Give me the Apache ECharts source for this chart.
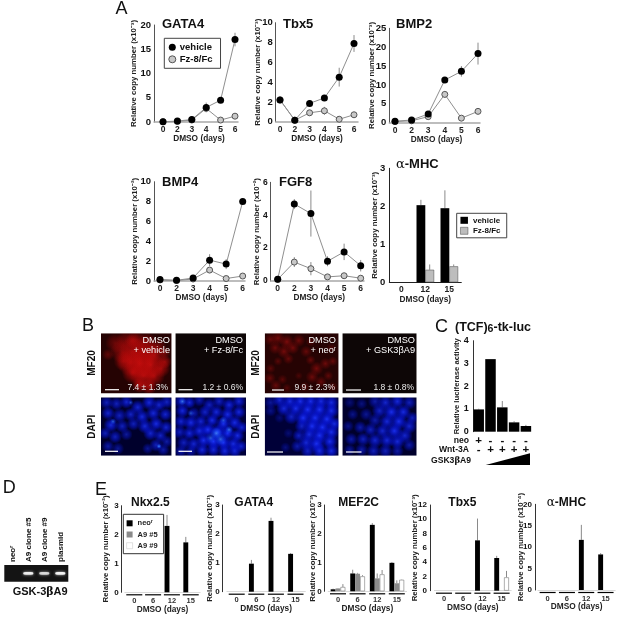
<!DOCTYPE html>
<html><head><meta charset="utf-8">
<style>html,body{margin:0;padding:0;background:#fff}#c{width:622px;height:624px}</style>
<script src="https://cdn.jsdelivr.net/npm/echarts@6/dist/echarts.min.js"></script>
</head><body><div id="c"></div>
<script>
// ---------- DATA ----------
const dayLabels = ['0','2','3','4','5','6'];
const gata4Vehicle = [0.05,0.2,0.5,3.0,4.5,17.0];
const gata4Fz = [0.05,0.1,0.4,2.8,0.4,1.2];
const gata4VehicleErr = [0,0,0,1.0,0.3,1.4];
const gata4FzErr = [0,0,0,0.3,0,0.2];
const tbx5Vehicle = [2.2,0.15,1.85,2.4,4.5,7.9];
const tbx5Fz = [2.2,0.15,0.9,1.1,0.25,0.7];
const tbx5VehicleErr = [0.2,0,0.3,0.2,0.95,0.85];
const tbx5FzErr = [0,0,0.25,0.4,0.1,0.1];
const bmp2Vehicle = [0.4,0.7,2.3,11.3,13.6,18.3];
const bmp2Fz = [0.3,0.5,1.6,7.5,1.2,3.0];
const bmp2VehicleErr = [0,0,0.3,0.7,1.4,2.9];
const bmp2FzErr = [0,0,0.2,0.9,0.2,0.3];
const bmp4Vehicle = [0.15,0.07,0.3,2.1,1.7,8.0];
const bmp4Fz = [0.1,0.05,0.2,1.1,0.25,0.5];
const bmp4VehicleErr = [0,0,0.1,0.6,0.5,0.1];
const bmp4FzErr = [0,0,0,0.1,0.1,0.1];
const fgf8Vehicle = [0.1,4.68,4.1,1.2,1.77,0.93];
const fgf8Fz = [0.1,1.15,0.75,0.25,0.32,0.17];
const fgf8VehicleErr = [0,0.3,1.4,0.3,0.5,0.35];
const fgf8FzErr = [0,0.3,0.4,0.1,0.1,0.1];

const mhcDays = ['0','12','15'];
const mhcVehicle = [0,2.03,1.95];
const mhcFz = [0,0.33,0.42];
const mhcVehicleErr = [0,0.14,0.47];
const mhcFzErr = [0,0.14,0.05];

const lucValues = [0.98,3.19,1.07,0.41,0.25];
const lucErr = [0.03,0,0.28,0.05,0.05];
const neoRow = ['+','-','-','-','-'];
const wntRow = ['-','+','+','+','+'];

const gelLanes = ['neoʳ','A9 clone #5','A9 clone #9','plasmid'];
const gelBands = [0,0.95,0.8,1];

const eDays = ['0','6','12','15'];
const nkxNeo = [0,0,2.3,1.73], nkxA5 = [0,0,0,0], nkxA9 = [0,0,0,0];
const nkxNeoErr = [0,0,0.38,0.19], nkxA5Err = [0,0,0,0], nkxA9Err = [0,0,0,0];
const eGataNeo = [0,0.97,2.45,1.31], eGataA5 = [0,0,0,0], eGataA9 = [0,0,0,0];
const eGataNeoErr = [0,0.13,0.11,0.03], eGataA5Err = [0,0,0,0], eGataA9Err = [0,0,0,0];
const mefNeo = [0.07,0.62,2.31,0.99], mefA5 = [0.1,0.61,0.45,0.28], mefA9 = [0.15,0.52,0.59,0.4];
const mefNeoErr = [0.02,0.13,0.06,0.03], mefA5Err = [0.01,0.03,0.17,0.1], mefA9Err = [0.1,0.04,0.15,0.01];
const eTbxNeo = [0,0,7.05,4.58], eTbxA5 = [0,0,0,0], eTbxA9 = [0,0,0,1.87];
const eTbxNeoErr = [0,0,3.05,0.3], eTbxA5Err = [0,0,0,0], eTbxA9Err = [0,0,0,0.9];
const eMhcNeo = [0,0,11.7,8.3], eMhcA5 = [0,0,0,0], eMhcA9 = [0,0,0,0];
const eMhcNeoErr = [0,0,3.5,0.3], eMhcA5Err = [0,0,0,0], eMhcA9Err = [0,0,0,0];

// micrograph blobs: [x%, y%, diameter, opacity]
const mf1Blobs = [[10,35,12,.3],[20,16,20,.35],[35,12,20,.4],[50,12,20,.45],[65,15,20,.45],[80,22,18,.4],[90,32,12,.4],
 [30,30,24,.5],[45,30,28,.6],[60,30,28,.6],[75,36,24,.6],[90,47,14,.6],[32,46,20,.5],[42,48,28,.6],[55,50,30,.7],[70,52,28,.7],
 [85,58,18,.6],[45,65,22,.6],[60,70,28,.7],[75,70,22,.6],[55,85,16,.6],[68,88,16,.6],[45,12,16,.4]];
const mf3Blobs = [[8,10,13,.5],[18,8,14,.6],[30,14,15,.65],[14,24,13,.55],[26,30,14,.6],[38,24,13,.6],[46,12,13,.55],[32,42,11,.5],
 [18,46,9,.4],[8,58,10,.4],[7,74,12,.5],[15,86,12,.5],[24,76,10,.4],[30,90,9,.35],[56,30,12,.5],[62,44,10,.5],[70,58,14,.6],
 [82,50,12,.55],[92,46,10,.5],[64,72,13,.55],[76,80,12,.5],[54,88,10,.4],[86,70,10,.45],[92,88,10,.4],[62,14,10,.35],[90,24,10,.3],[46,70,8,.3]];
const dapi1Blobs = [[8,10,11,.7],[22,12,11,.7],[36,9,11,.8],[52,18,12,.8],[68,10,12,.85],[82,14,11,.8],[93,9,11,.75],[10,28,11,.8],[26,32,12,.7],
 [42,30,11,.75],[58,34,12,.85],[74,28,12,.85],[91,30,11,.8],[14,48,12,.85],[30,50,11,.7],[46,46,11,.7],[62,50,12,.85],[78,46,12,.9],[92,52,11,.8],
 [6,62,10,.7],[20,68,11,.7],[36,64,10,.55],[70,62,12,.8],[84,66,11,.75],[10,84,10,.6],[24,88,10,.5],[78,82,11,.7],[88,90,10,.6],[66,88,9,.5],[93,76,10,.6]];
const dapi1Bright = [[82,84,5,.9],[17,42,6,.6],[42,10,5,.5]];
const dapi2Blobs = [[8,8,11,.7],[20,10,10,.85],[34,6,10,.6],[48,14,11,.7],[62,8,11,.7],[76,14,11,.85],[90,8,11,.8],[10,24,11,.85],[26,28,10,.6],
 [42,26,11,.75],[58,26,11,.85],[74,30,12,.9],[90,26,11,.85],[8,42,11,.8],[22,44,12,.9],[36,42,11,.8],[52,40,11,.9],[68,46,12,.95],[84,44,12,.9],
 [94,52,10,.8],[6,60,11,.7],[20,62,11,.85],[34,58,12,.9],[46,56,12,1],[60,60,13,1],[74,62,12,1],[88,66,11,.9],[12,78,11,.7],[26,80,11,.8],
 [40,74,12,.95],[54,76,13,1],[68,78,12,1],[82,80,12,.9],[93,84,10,.8],[8,92,10,.6],[22,92,10,.6],[38,90,11,.85],[54,90,11,.85],[70,92,11,.9],[84,92,11,.85]];
const dapi2Bright = [[10,8,6,.7],[58,62,9,.7],[64,72,9,.6],[50,70,8,.5],[76,56,6,.7],[22,28,5,.5],[68,40,6,.5]];
const dapi3Blobs = [[20,6,11,.8],[34,8,12,.9],[48,8,12,.95],[62,8,12,.95],[76,8,12,.9],[90,10,12,.9],[8,10,10,.5],[26,20,12,.85],[42,20,12,.95],
 [58,22,13,1],[74,22,13,1],[90,24,12,.95],[8,24,9,.4],[36,34,12,.75],[52,36,13,1],[68,36,13,1],[84,38,13,1],[94,46,11,.9],[50,50,11,.75],
 [64,50,13,1],[78,52,13,1],[90,60,12,.95],[60,64,12,.9],[74,66,13,1],[46,66,10,.7],[88,76,12,.95],[56,78,12,.85],[70,80,13,1],[44,84,10,.6],[58,92,11,.75],[74,92,12,.9],[90,92,11,.9],[20,36,8,.3],[32,62,8,.3],[28,86,8,.35]];
const dapi4Blobs = [[44,8,11,.6],[58,10,12,.8],[74,8,12,.85],[90,10,11,.7],[10,10,9,.35],[26,12,9,.4],[50,24,12,.75],[66,26,13,.95],[82,26,12,.9],[94,36,10,.7],
 [14,30,9,.45],[32,30,10,.5],[44,40,11,.6],[60,42,12,.85],[76,42,13,.95],[90,50,12,.8],[8,50,9,.45],[24,52,10,.6],[38,56,11,.7],[54,58,12,.8],[70,58,13,.95],
 [84,66,12,.8],[12,72,10,.6],[28,72,11,.7],[44,74,12,.8],[60,74,12,.85],[74,76,12,.85],[90,82,10,.6],[10,90,9,.5],[26,90,10,.6],[42,92,11,.7],[58,92,11,.7],[74,92,10,.6]];

// ---------- OPTION ----------
const FF = '"Liberation Sans", Arial, sans-serif';
const option = {animation:false, backgroundColor:'#fff', grid:[], xAxis:[], yAxis:[], series:[], title:[], legend:[], graphic:{elements:[]}};
const YNAME = {fontFamily:FF, fontWeight:'bold', fontSize:7.8, color:'#222'};
const XNAME = {fontFamily:FF, fontWeight:'bold', fontSize:8.3, color:'#222'};

function addTitle(text, left, cy, size, weight) {
  option.title.push({text, left, top:cy-size*0.62, padding:0, itemGap:0,
    textStyle:{fontFamily:FF, fontSize:size, fontWeight:weight||'bold', color:'#111', lineHeight:size*1.2,
      rich:{g:{fontFamily:'"DejaVu Serif",serif', fontWeight:'normal', fontSize:size, color:'#111'},
            s:{fontFamily:FF, fontWeight:'bold', fontSize:size*0.85, color:'#111', verticalAlign:'bottom', padding:[4,0,0,0]}}}});
}
function addText(text, x, y, size, opt) {
  opt = opt||{};
  option.graphic.elements.push({type:'text', x, y, rotation:opt.rot||0, z:60, silent:true,
    style:{text, fill:opt.fill||'#111', font:(opt.weight||'bold')+' '+size+'px '+FF, textAlign:opt.align||'center', textVerticalAlign:'middle', align:opt.align||'center', verticalAlign:'middle'}});
}
function addGrid(g) { option.grid.push(Object.assign({containLabel:false, borderWidth:0}, g)); return option.grid.length-1; }

function errorSeries(idx, items, dir, offset, color, w) {
  return {type:'custom', coordinateSystem:'cartesian2d', xAxisIndex:idx, yAxisIndex:idx, silent:true, z:2, clip:false,
    data:items, encode:{x:0,y:1},
    renderItem(p, api) {
      const x = api.value(0), v = api.value(1), e = api.value(2);
      if (!e) return null;
      const a = api.coord([x, v]), b = api.coord([x, v+e]), c = dir===2 ? api.coord([x, v-e]) : a;
      return {type:'line', shape:{x1:a[0]+offset, y1:c[1], x2:a[0]+offset, y2:b[1]}, style:{stroke:color||'#8a8a8a', lineWidth:w||1}};
    }};
}

function linePanel(cfg, vehicle, fz, vErr, fErr) {
  const i = addGrid({left:cfg.ax, top:cfg.top, width:cfg.end-cfg.ax, height:cfg.y0-cfg.top});
  const sp = (cfg.x5-cfg.x0)/5;
  const delta = (cfg.x0+cfg.x5)/2 - (cfg.ax+cfg.end)/2;
  option.xAxis.push({type:'value', gridIndex:i, min:(cfg.ax-cfg.x0)/sp, max:(cfg.end-cfg.x0)/sp, splitLine:{show:false},
    axisLine:{onZero:false, lineStyle:{color:'#a8a8a8', width:1.5}}, axisTick:{show:false},
    axisLabel:{customValues:[0,1,2,3,4,5], formatter:v=>dayLabels[Math.round(v)], fontFamily:FF, fontWeight:'bold', fontSize:8.5, color:'#222', margin:3, showMinLabel:true, showMaxLabel:true},
    name:'DMSO (days)', nameLocation:'middle', nameGap:13, nameMoveOverlap:false, nameTextStyle:Object.assign({padding:[0,0,0,Math.max(0,2*delta)]}, XNAME)});
  option.yAxis.push({type:'value', gridIndex:i, min:0, max:cfg.max, interval:cfg.step, splitLine:{show:false},
    axisLine:{show:true, onZero:false, lineStyle:{color:'#555', width:1}}, axisTick:{show:false},
    axisLabel:{fontFamily:FF, fontWeight:'bold', fontSize:cfg.tick||9.5, color:'#111', margin:3},
    name:'Relative copy number (x10'+cfg.exp+')', nameLocation:'middle', nameGap:cfg.gap, nameMoveOverlap:false, nameTextStyle:YNAME});
  const pts = a => a.map((v,k)=>[k,v]);
  const lineS = (name, data, fill, border, size, z) => ({type:'line', name, xAxisIndex:i, yAxisIndex:i, data:pts(data), z, symbol:'circle', symbolSize:size, showSymbol:true, clip:false,
    lineStyle:{color:'#8f8f8f', width:1}, itemStyle:{color:fill, borderColor:border, borderWidth:border==='none'?0:1}, silent:true});
  option.series.push(errorSeries(i, fz.map((v,k)=>[k,v,fErr[k]]), 2, 0));
  option.series.push(errorSeries(i, vehicle.map((v,k)=>[k,v,vErr[k]]), 2, 0));
  option.series.push(lineS('Fz-8/Fc', fz, '#c8c8c8', '#555', 6, 3));
  option.series.push(lineS('vehicle', vehicle, '#000', 'none', 7, 4));
  addTitle(cfg.title, cfg.tx, cfg.ty, 13);
}
linePanel({title:'GATA4', tx:162, ty:25, ax:154, y0:122, top:25, x0:163, x5:235, end:238, max:20, step:5, exp:'⁻³', gap:16}, gata4Vehicle, gata4Fz, gata4VehicleErr, gata4FzErr);
linePanel({title:'Tbx5', tx:283, ty:25, ax:275.7, y0:121.7, top:22.7, x0:280, x5:354, end:358, max:10, step:2, exp:'⁻³', gap:14}, tbx5Vehicle, tbx5Fz, tbx5VehicleErr, tbx5FzErr);
linePanel({title:'BMP2', tx:396, ty:25, ax:389.3, y0:122.7, top:28.3, x0:395, x5:478, end:480, max:25, step:5, exp:'⁻³', gap:13}, bmp2Vehicle, bmp2Fz, bmp2VehicleErr, bmp2FzErr);
linePanel({title:'BMP4', tx:162, ty:183, ax:154, y0:281, top:181.7, x0:160, x5:242.7, end:245, max:10, step:2, exp:'⁻²', gap:15}, bmp4Vehicle, bmp4Fz, bmp4VehicleErr, bmp4FzErr);
linePanel({title:'FGF8', tx:279, ty:183, ax:270.7, y0:281, top:182.3, x0:277.7, x5:360.7, end:364, max:6, step:2, exp:'⁻²', gap:10, tick:8.5}, fgf8Vehicle, fgf8Fz, fgf8VehicleErr, fgf8FzErr);

option.legend.push({left:164.3, top:38.3, orient:'vertical', selectedMode:false, padding:[4,8,4,4], itemGap:2, itemWidth:7, itemHeight:7, borderColor:'#444', borderWidth:1, backgroundColor:'#fff', z:20,
  textStyle:{fontFamily:FF, fontWeight:'bold', fontSize:9.5, color:'#111', padding:[0,0,0,-1]},
  data:[{name:'vehicle', icon:'circle', itemStyle:{color:'#000', borderWidth:0}}, {name:'Fz-8/Fc', icon:'circle', itemStyle:{color:'#c8c8c8', borderColor:'#555', borderWidth:1}}]});

// alpha-MHC, panel A
(function(){
  const i = addGrid({left:389.3, top:168.3, width:72, height:114});
  option.xAxis.push({type:'category', gridIndex:i, data:mhcDays, axisTick:{show:false}, axisLine:{lineStyle:{color:'#222', width:1}},
    axisLabel:{fontFamily:FF, fontWeight:'bold', fontSize:8.5, color:'#222', margin:3}, name:'DMSO (days)', nameLocation:'middle', nameGap:13, nameMoveOverlap:false, nameTextStyle:XNAME});
  option.yAxis.push({type:'value', gridIndex:i, min:0, max:3, interval:1, splitLine:{show:false}, axisTick:{show:false}, axisLine:{show:true, lineStyle:{color:'#222'}},
    axisLabel:{fontFamily:FF, fontWeight:'bold', fontSize:9.5, color:'#111', margin:4}, name:'Relative copy number (x10⁻³)', nameLocation:'middle', nameGap:10, nameMoveOverlap:false, nameTextStyle:YNAME});
  option.series.push({type:'bar', name:'vehicle ', xAxisIndex:i, yAxisIndex:i, data:mhcVehicle, barWidth:8.8, barGap:'0%', itemStyle:{color:'#000'}, silent:true});
  option.series.push({type:'bar', name:'Fz-8/Fc ', xAxisIndex:i, yAxisIndex:i, data:mhcFz.map(v=>v||null), barWidth:8.8, itemStyle:{color:'#bdbdbd', borderColor:'#444', borderWidth:0.5}, silent:true});
  option.series.push(errorSeries(i, mhcVehicle.map((v,k)=>[k,v,mhcVehicleErr[k]]), 1, -4.4));
  option.series.push(errorSeries(i, mhcFz.map((v,k)=>[k,v,mhcFzErr[k]]), 1, 4.4));
  addTitle('{g|α}-MHC', 396, 165, 13);
})();
option.legend.push({left:456.7, top:213.3, orient:'vertical', selectedMode:false, padding:[3,4,3,3.5], itemGap:2.5, itemWidth:7.5, itemHeight:7, borderColor:'#444', borderWidth:1, backgroundColor:'#fff',
  textStyle:{fontFamily:FF, fontWeight:'bold', fontSize:8, color:'#111'},
  data:[{name:'vehicle ', icon:'rect', itemStyle:{color:'#000'}}, {name:'Fz-8/Fc ', icon:'rect', itemStyle:{color:'#bdbdbd', borderColor:'#444', borderWidth:0.5}}]});

// Panel B micrographs
function blobColor(inner, mid) {
  return {type:'radial', x:0.5, y:0.5, r:0.5, colorStops:[{offset:0,color:inner},{offset:0.5,color:mid},{offset:1,color:mid.replace(/[\d.]+\)$/,'0)')}]};
}
function micro(box, bg, sets) {
  const i = addGrid({left:box[0], top:box[1], width:box[2]-box[0], height:box[3]-box[1], show:true, backgroundColor:bg});
  option.xAxis.push({type:'value', gridIndex:i, min:0, max:100, show:false});
  option.yAxis.push({type:'value', gridIndex:i, min:0, max:100, inverse:true, show:false});
  sets.forEach(s=>{
    const k = s.scale||1;
    option.series.push({type:'scatter', xAxisIndex:i, yAxisIndex:i, silent:true, clip:false, z:3,
      symbolSize:v=>v[2]*k, itemStyle:{color:s.color},
      data:s.data.map(d=>({value:[d[0],d[1],d[2]], itemStyle:{opacity:d[3]}}))});
  });
  option.graphic.elements.push({type:'rect', z:50, silent:true, shape:{x:box[0]-1.7, y:box[1]-1.7, width:box[2]-box[0]+3.4, height:box[3]-box[1]+3.4}, style:{fill:'none', stroke:'#fff', lineWidth:3.4}});
}
const RED = blobColor('#e81010','rgba(200,10,10,0.7)');
const DRED = blobColor('#a81010','rgba(125,8,8,0.7)');
const BLUE = blobColor('#1a30f4','rgba(8,22,215,0.75)');
const LBLUE = blobColor('#4f9cff','rgba(30,90,255,0.6)');
const col = [[101,171.7],[175.3,246],[264.7,338.7],[342.3,416.7]];
const rowTop=[333.3,394], rowBot=[396.7,455.7];
micro([col[0][0],rowTop[0],col[0][1],rowTop[1]], '#250303', [{color:RED, data:mf1Blobs}]);
micro([col[1][0],rowTop[0],col[1][1],rowTop[1]], '#0d0606', []);
micro([col[2][0],rowTop[0],col[2][1],rowTop[1]], '#260303', [{color:DRED, data:mf3Blobs}]);
micro([col[3][0],rowTop[0],col[3][1],rowTop[1]], '#0d0606', []);
micro([col[0][0],rowBot[0],col[0][1],rowBot[1]], '#00002c', [{color:BLUE, data:dapi1Blobs, scale:1.25},{color:LBLUE, data:dapi1Bright}]);
micro([col[1][0],rowBot[0],col[1][1],rowBot[1]], '#00003a', [{color:BLUE, data:dapi2Blobs, scale:1.25},{color:LBLUE, data:dapi2Bright, scale:1.3}]);
micro([col[2][0],rowBot[0],col[2][1],rowBot[1]], '#000038', [{color:BLUE, data:dapi3Blobs, scale:1.3}]);
micro([col[3][0],rowBot[0],col[3][1],rowBot[1]], '#00002c', [{color:BLUE, data:dapi4Blobs, scale:1.3}]);
[[92.7,363,'MF20'],[92.7,426.7,'DAPI'],[256.7,363,'MF20'],[256.7,426.7,'DAPI']].forEach(t=>addText(t[2],t[0],t[1],10,{rot:Math.PI/2}));
[[170,340,'DMSO'],[170,350,'+ vehicle'],[243,340,'DMSO'],[243,350,'+ Fz-8/Fc'],[336,340,'DMSO'],[336,350,'+ neoʳ'],[415,340,'DMSO'],[415,350,'+ GSK3βA9']]
  .forEach(t=>addText(t[2],t[0],t[1],9.2,{fill:'#fff',weight:'normal',align:'right'}));
[[168,387.3,'7.4 ± 1.3%'],[243,387.3,'1.2 ± 0.6%'],[335,387.3,'9.9 ± 2.3%'],[414,387.3,'1.8 ± 0.8%']]
  .forEach(t=>addText(t[2],t[0],t[1],8.5,{fill:'#e8e8e8',weight:'normal',align:'right'}));
[[105,389.7,14],[178.5,389.7,14],[272,390,12],[346,390,15],[105,451.3,13],[178.5,451.3,13.5],[267,452,16],[346,452,15.5]].forEach(b=>{
  option.graphic.elements.push({type:'rect', z:60, silent:true, shape:{x:b[0], y:b[1]-0.6, width:b[2], height:1.2}, style:{fill:'#fff'}});
});

// Panel C
(function(){
  const i = addGrid({left:472.8, top:340.7, width:59, height:91});
  option.xAxis.push({type:'category', gridIndex:i, data:neoRow.map((n,k)=>n+'\n'+wntRow[k]), axisTick:{show:false}, axisLine:{show:false},
    axisLabel:{fontFamily:FF, fontWeight:'bold', fontSize:11.5, lineHeight:9.5, color:'#111', margin:4, interval:0}});
  option.yAxis.push({type:'value', gridIndex:i, min:0, max:4, interval:1, splitLine:{show:false}, axisTick:{show:false}, axisLine:{show:true, lineStyle:{color:'#333'}},
    axisLabel:{fontFamily:FF, fontWeight:'bold', fontSize:9, color:'#111', margin:4}, name:'Relative luciferase activity', nameLocation:'middle', nameGap:12, nameMoveOverlap:false, nameTextStyle:Object.assign({},YNAME,{fontSize:7.7})});
  option.series.push({type:'bar', xAxisIndex:i, yAxisIndex:i, data:lucValues, barWidth:10.5, itemStyle:{color:'#000'}, silent:true});
  option.series.push(errorSeries(i, lucValues.map((v,k)=>[k,v,lucErr[k]]), 1, 0));
  addTitle('(TCF){s|6}-tk-luc', 455, 327.5, 12.5);
  addText('neo',469,440.7,8.6,{align:'right'}); addText('Wnt-3A',469,450,8.6,{align:'right'});
  option.title.push({text:'GSK3{g|β}A9', left:431, top:456.5, padding:0, textStyle:{fontFamily:FF, fontSize:8.6, fontWeight:'bold', color:'#111', rich:{g:{fontFamily:'"DejaVu Serif",serif', fontSize:8.6, color:'#111'}}}});
  option.graphic.elements.push({type:'polygon', z:10, silent:true, shape:{points:[[485.7,465],[530,465],[530,453.3]]}, style:{fill:'#000'}});
})();

// Panel D
(function(){
  const i = addGrid({left:4.3, top:565, width:64, height:16.7, show:true, backgroundColor:'#141414'});
  option.xAxis.push({type:'category', gridIndex:i, position:'top', data:gelLanes, axisTick:{show:false}, axisLine:{show:false},
    axisLabel:{rotate:90, interval:0, fontFamily:FF, fontWeight:'bold', fontSize:8, color:'#111', margin:3}});
  option.yAxis.push({type:'value', gridIndex:i, min:0, max:1, show:false});
  option.series.push({type:'scatter', xAxisIndex:i, yAxisIndex:i, silent:true, symbol:'roundRect', symbolSize:[10,2.6],
    itemStyle:{color:'#f4f4f4', shadowBlur:3, shadowColor:'#cfcfcf'},
    data:gelBands.map((v,k)=>({value:[k,0.5], itemStyle:{opacity:v}})).filter((d,k)=>gelBands[k]>0)});
  option.title.push({text:'GSK-3{g|β}A9', left:12.7, top:586.5, padding:0, textStyle:{fontFamily:FF, fontSize:11, fontWeight:'bold', color:'#111', rich:{g:{fontFamily:'"DejaVu Serif",serif', fontSize:11, color:'#111'}}}});
})();

// Panel E
function ePanel(cfg, neo, a5, a9, neoE, a5E, a9E) {
  const i = addGrid({left:cfg.left, top:cfg.top, width:cfg.w, height:cfg.y0-cfg.top});
  option.xAxis.push({type:'category', gridIndex:i, data:eDays, axisTick:{show:false}, axisLine:{lineStyle:{color:'#cfcfcf', width:0.8}},
    axisLabel:{fontFamily:FF, fontWeight:'bold', fontSize:7.5, color:'#333', margin:4.5, interval:0}, name:'DMSO (days)', nameLocation:'middle', nameGap:13, nameMoveOverlap:false, nameTextStyle:XNAME});
  option.yAxis.push({type:'value', gridIndex:i, min:0, max:cfg.max, interval:cfg.step, offset:cfg.left-cfg.ax, splitLine:{show:false}, axisTick:{show:false},
    axisLine:{show:true, lineStyle:{color:'#333'}}, axisLabel:{fontFamily:FF, fontWeight:'bold', fontSize:8, color:'#111', margin:3},
    name:'Relative copy number (x10'+cfg.exp+')', nameLocation:'middle', nameGap:cfg.gap, nameMoveOverlap:false, nameTextStyle:YNAME});
  const bw = 4.9;
  const bar = (name,data,style) => ({type:'bar', name, xAxisIndex:i, yAxisIndex:i, data:data.map(v=>v||null), barWidth:bw, barGap:'0%', itemStyle:style, silent:true});
  option.series.push(bar('neoʳ', neo, {color:'#000'}));
  option.series.push(bar('A9 #5', a5, {color:'#8a8a8a'}));
  option.series.push(bar('A9 #9', a9, {color:'#fff', borderColor:'#777', borderWidth:0.6}));
  option.series.push(errorSeries(i, neo.map((v,k)=>[k,v,neoE[k]]), 1, -bw));
  option.series.push(errorSeries(i, a5.map((v,k)=>[k,v,a5E[k]]), 1, 0));
  option.series.push(errorSeries(i, a9.map((v,k)=>[k,v,a9E[k]]), 1, bw));
  option.series.push({type:'custom', coordinateSystem:'cartesian2d', xAxisIndex:i, yAxisIndex:i, silent:true, z:5, clip:false,
    data:eDays.map((d,k)=>[k,0]), encode:{x:0,y:1},
    renderItem(p, api){ const c = api.coord([api.value(0),0]); return {type:'line', shape:{x1:c[0]-8, y1:c[1]+2.5, x2:c[0]+8, y2:c[1]+2.5}, style:{stroke:'#000', lineWidth:1.2}}; }});
  addTitle(cfg.title, cfg.tx, 502.7, 12);
}
ePanel({title:'Nkx2.5', tx:131, left:124.9, ax:121.7, top:505.7, y0:592.3, w:75.2, max:3, step:1, exp:'⁻²', gap:12}, nkxNeo, nkxA5, nkxA9, nkxNeoErr, nkxA5Err, nkxA9Err);
ePanel({title:'GATA4', tx:234.3, left:226.9, ax:222.7, top:505, y0:591.7, w:78.4, max:3, step:1, exp:'⁻¹', gap:9}, eGataNeo, eGataA5, eGataA9, eGataNeoErr, eGataA5Err, eGataA9Err);
ePanel({title:'MEF2C', tx:338.3, left:328.2, ax:324.7, top:505, y0:591.3, w:78.4, max:3, step:1, exp:'⁻³', gap:8}, mefNeo, mefA5, mefA9, mefNeoErr, mefA5Err, mefA9Err);
ePanel({title:'Tbx5', tx:448.3, left:434.4, ax:430, top:505, y0:590.7, w:76.8, max:12, step:2, exp:'⁻³', gap:11}, eTbxNeo, eTbxA5, eTbxA9, eTbxNeoErr, eTbxA5Err, eTbxA9Err);
ePanel({title:'{g|α}-MHC', tx:546.7, left:538, ax:535, top:504.3, y0:590, w:77.2, max:20, step:5, exp:'⁻⁴', gap:10}, eMhcNeo, eMhcA5, eMhcA9, eMhcNeoErr, eMhcA5Err, eMhcA9Err);
option.legend.push({left:123.3, top:514.3, orient:'vertical', selectedMode:false, padding:[5,6,4,3], itemGap:3.2, itemWidth:6, itemHeight:6, borderColor:'#333', borderWidth:1, backgroundColor:'#fff', z:20,
  textStyle:{fontFamily:FF, fontWeight:'bold', fontSize:7.5, color:'#222'},
  data:[{name:'neoʳ', icon:'rect', itemStyle:{color:'#000'}}, {name:'A9 #5', icon:'rect', itemStyle:{color:'#8a8a8a'}}, {name:'A9 #9', icon:'rect', itemStyle:{color:'#fff', borderColor:'#ccc', borderWidth:0.6}}]});

// Panel letters
addTitle('A',115.5,9.7,18,'normal'); addTitle('B',82,326.7,18,'normal'); addTitle('C',435,327.7,18,'normal'); addTitle('D',2.7,488,18,'normal'); addTitle('E',95,490,18,'normal');

const chart = echarts.init(document.getElementById('c'), null, {renderer:'canvas', width:622, height:624});
chart.setOption(option);
</script></body></html>
